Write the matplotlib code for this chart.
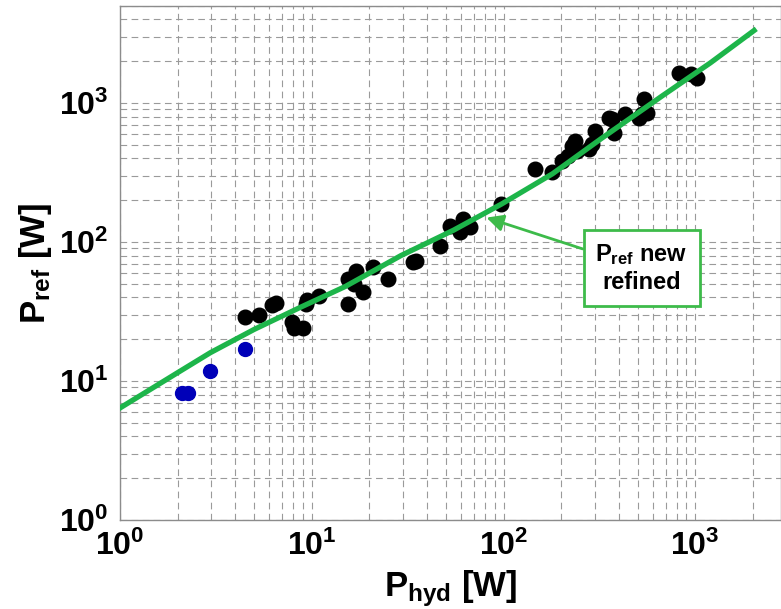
import matplotlib
matplotlib.use('Agg')
import matplotlib.pyplot as plt

p_hyd = [4.5, 5.3, 6.2, 6.5, 7.9, 8.1, 9.05, 9.3, 9.5, 10.9,
         15.4, 17.0, 20.8, 18.4, 15.4, 24.9, 16.6, 35.0, 33.7, 46.4,
         52.3, 61.5, 59.0, 66.6, 97.6, 146, 178, 218, 236, 227,
         278, 301, 201, 368, 375, 432, 507, 539, 561, 822,
         1024, 945, 353, 528, 241, 289]
p_ref = [29.1, 30.0, 35.5, 36.3, 26.5, 24.0, 24.0, 35.9, 38.0, 41.2,
         54.3, 62.3, 65.8, 43.5, 35.9, 54.3, 50.0, 73.5, 71.5, 94.2,
         131, 146.5, 117.5, 127.6, 187.6, 335, 317, 417, 535, 492,
         466, 631, 384, 765, 613, 831, 785, 1065, 853, 1652,
         1521, 1610, 785, 831, 453, 509]

# low-power points (blue)
p_hyd_low = [2.10, 2.25, 2.94, 4.48]
p_ref_low = [8.2, 8.2, 11.8, 17.0]

# refined model curve
fit_x = [1.0, 2.0, 2.96, 5.0, 8.75, 15.0, 29.2, 55.0, 97.5, 180, 326, 671, 1200, 2028]
fit_y = [6.4, 11.5, 16.0, 23.5, 34.0, 48.0, 80.0, 122, 187.6, 310, 560, 1125, 1950, 3334]

fam = ['Liberation Sans Narrow', 'Liberation Sans', 'DejaVu Sans']
plt.rcParams['font.family'] = fam
plt.rcParams['font.weight'] = 'bold'

fig = plt.figure(figsize=(7.81, 6.09), dpi=100)
ax = fig.add_axes([120 / 781, 1 - 520 / 609, 661 / 781, 514 / 609])

ax.plot(p_hyd, p_ref, 'o', color='black', ms=10.5, zorder=3)
ax.plot(p_hyd_low, p_ref_low, 'o', color='#0000b8', ms=10, zorder=3)
ax.plot(fit_x, fit_y, '-', color='#1db54a', lw=3.8, zorder=4)

ax.set_xscale('log')
ax.set_yscale('log')
ax.set_xlim(1, 2800)
ax.set_ylim(1, 5000)

ax.grid(True, which='both', color='#9a9a9a', ls=(0, (6, 4)), lw=0.8)
ax.set_axisbelow(True)
for s in ax.spines.values():
    s.set_color('#8c8c8c')
    s.set_linewidth(1)
ax.tick_params(which='both', length=0, labelsize=23, pad=8)
for lab in ax.get_xticklabels() + ax.get_yticklabels():
    lab.set_fontweight('bold')

ax.set_xlabel(r'$\mathdefault{P_{hyd}}$ [W]', fontsize=25, fontweight='bold', labelpad=4)
ax.set_ylabel(r'$\mathdefault{P_{ref}}$ [W]', fontsize=25, fontweight='bold', labelpad=4)

ax.annotate(r'$\mathdefault{P_{ref}}$ new' + '\nrefined', xy=(81.5, 150), xytext=(525, 65),
            fontsize=17, fontweight='bold', ha='center', va='center', multialignment='center',
            bbox=dict(boxstyle='square,pad=0.5', fc='white', ec='#3dbb4a', lw=2),
            arrowprops=dict(arrowstyle='-|>', color='#3dbb4a', lw=2, mutation_scale=25,
                            shrinkA=0, shrinkB=0),
            zorder=5)

fig.savefig('out.png', dpi=100)
